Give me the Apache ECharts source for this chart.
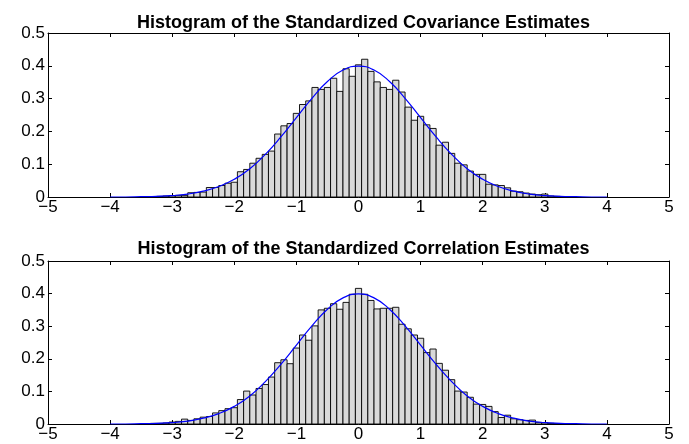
<!DOCTYPE html>
<html>
<head>
<meta charset="utf-8">
<script src="https://cdn.jsdelivr.net/npm/echarts@6/dist/echarts.min.js"></script>
<style>
html,body{margin:0;padding:0;background:#fff;}
#chart{width:689px;height:444px;}
</style>
</head>
<body>
<div id="chart"></div>
<script>
// Titles
var titles = ['Histogram of the Standardized Covariance Estimates',
              'Histogram of the Standardized Correlation Estimates'];
// Bin width and bin centers
var binWidth = 0.1;
var binCenters = [-3.4,-3.3,-3.2,-3.1,-3.0,-2.9,-2.8,-2.7,-2.6,-2.5,-2.4,-2.3,-2.2,-2.1,-2.0,
  -1.9,-1.8,-1.7,-1.6,-1.5,-1.4,-1.3,-1.2,-1.1,-1.0,-0.9,-0.8,-0.7,-0.6,-0.5,-0.4,-0.3,-0.2,-0.1,
  0.0,0.1,0.2,0.3,0.4,0.5,0.6,0.7,0.8,0.9,1.0,1.1,1.2,1.3,1.4,1.5,1.6,1.7,1.8,1.9,2.0,
  2.1,2.2,2.3,2.4,2.5,2.6,2.7,2.8,2.9,3.0,3.1,3.2,3.3];
// Covariance histogram heights
var covValues = [0.001,0.001,0.002,0.003,0.004,0.005,0.005,0.013,0.014,0.015,0.029,0.029,0.035,0.042,0.045,
  0.077,0.084,0.103,0.118,0.130,0.140,0.192,0.217,0.224,0.255,0.282,0.293,0.334,0.328,0.334,0.362,0.322,0.391,0.368,
  0.403,0.420,0.383,0.351,0.334,0.328,0.356,0.320,0.274,0.234,0.246,0.220,0.209,0.158,0.167,0.133,0.103,0.098,0.079,0.069,0.069,
  0.039,0.037,0.035,0.028,0.018,0.016,0.012,0.009,0.007,0.009,0.003,0.002,0.001];
// Correlation histogram heights
var corValues = [0.001,0.002,0.002,0.003,0.006,0.008,0.015,0.011,0.016,0.021,0.023,0.034,0.041,0.047,0.050,
  0.075,0.101,0.089,0.109,0.121,0.144,0.188,0.197,0.185,0.233,0.273,0.257,0.301,0.350,0.355,0.369,0.352,0.373,0.398,
  0.416,0.398,0.379,0.353,0.355,0.355,0.358,0.306,0.292,0.273,0.263,0.219,0.230,0.186,0.165,0.136,0.101,0.098,0.082,0.061,0.060,
  0.054,0.038,0.020,0.027,0.016,0.013,0.011,0.012,0.005,0.004,0.002,0.001,0.001];
// Fitted density curve
var curveX = [-4,-3.75,-3.5,-3.25,-3,-2.75,-2.5,-2.25,-2,-1.75,-1.5,-1.25,-1,-0.75,-0.5,-0.25,0,
  0.25,0.5,0.75,1,1.25,1.5,1.75,2,2.25,2.5,2.75,3,3.25,3.5,3.75,4];
var curveY = [0.000,0.000,0.001,0.002,0.004,0.009,0.018,0.032,0.054,0.086,0.130,0.183,0.242,0.301,0.352,0.387,0.399,
  0.387,0.352,0.301,0.242,0.183,0.130,0.086,0.054,0.032,0.018,0.009,0.004,0.002,0.001,0.000,0.000];
// Tick values
var xTicks = [-5,-4,-3,-2,-1,0,1,2,3,4,5];
var yTicks = [0,0.1,0.2,0.3,0.4,0.5];

var FONT = '"Liberation Sans", Arial, Helvetica, sans-serif';
var grids = [
  {left:48, width:621, top:33, height:164},
  {left:48, width:621, top:261, height:163}
];

function pairs(xs, ys){ var out=[]; for (var i=0;i<xs.length;i++) out.push([xs[i], ys[i]]); return out; }

function renderBar(params, api){
  var x = api.value(0), y = api.value(1);
  var p0 = api.coord([x - binWidth/2, y]);
  var p1 = api.coord([x + binWidth/2, 0]);
  return {type:'rect', shape:{x:p0[0], y:p0[1], width:p1[0]-p0[0], height:p1[1]-p0[1]},
    style:{fill:'#d9d9d9', stroke:'#000', lineWidth:0.9}};
}

var xAxes=[], yAxes=[], series=[], titleOpts=[];
grids.forEach(function(g, i){
  titleOpts.push({text:titles[i], left: g.left + g.width/2, textAlign:'center', top: i===0 ? 9 : 235,
    textStyle:{fontFamily:FONT, fontSize:18, fontWeight:'bold', color:'#000'}});
  xAxes.push({type:'value', gridIndex:i, min:xTicks[0], max:xTicks[xTicks.length-1], interval:1,
    position:'bottom',
    axisLine:{show:true, onZero:false, lineStyle:{color:'#000', width:1}},
    axisTick:{show:true, inside:true, length:4, lineStyle:{color:'#000'}},
    axisLabel:{fontFamily:FONT, fontSize:17, color:'#000', margin:2,
      formatter:function(v){ return String(v).replace('-', '\u2212'); }},
    splitLine:{show:false}});
  xAxes.push({type:'value', gridIndex:i, min:xTicks[0], max:xTicks[xTicks.length-1], interval:1,
    position:'top',
    axisLine:{show:true, onZero:false, lineStyle:{color:'#000', width:1}},
    axisTick:{show:true, inside:true, length:4, lineStyle:{color:'#000'}},
    axisLabel:{show:false}, splitLine:{show:false}});
  yAxes.push({type:'value', gridIndex:i, min:yTicks[0], max:yTicks[yTicks.length-1], interval:0.1,
    position:'left',
    axisLine:{show:true, onZero:false, lineStyle:{color:'#000', width:1}},
    axisTick:{show:true, inside:true, length:4, lineStyle:{color:'#000'}},
    axisLabel:{fontFamily:FONT, fontSize:17, color:'#000', margin:3,
      formatter:function(v){ return String(Math.round(v*10)/10); }},
    splitLine:{show:false}});
  yAxes.push({type:'value', gridIndex:i, min:yTicks[0], max:yTicks[yTicks.length-1], interval:0.1,
    position:'right',
    axisLine:{show:true, onZero:false, lineStyle:{color:'#000', width:1}},
    axisTick:{show:true, inside:true, length:4, lineStyle:{color:'#000'}},
    axisLabel:{show:false}, splitLine:{show:false}});
  series.push({type:'custom', xAxisIndex:2*i, yAxisIndex:2*i, renderItem:renderBar,
    data: pairs(binCenters, i===0 ? covValues : corValues), silent:true, z:2});
  series.push({type:'line', xAxisIndex:2*i, yAxisIndex:2*i, data: pairs(curveX, curveY),
    smooth:true, showSymbol:false, lineStyle:{color:'#0000ff', width:1.2}, silent:true, z:3});
});

var chart = echarts.init(document.getElementById('chart'), null, {renderer:'canvas'});
chart.setOption({
  animation:false,
  backgroundColor:'#fff',
  title:titleOpts,
  grid:grids,
  xAxis:xAxes,
  yAxis:yAxes,
  series:series
});
</script>
</body>
</html>
